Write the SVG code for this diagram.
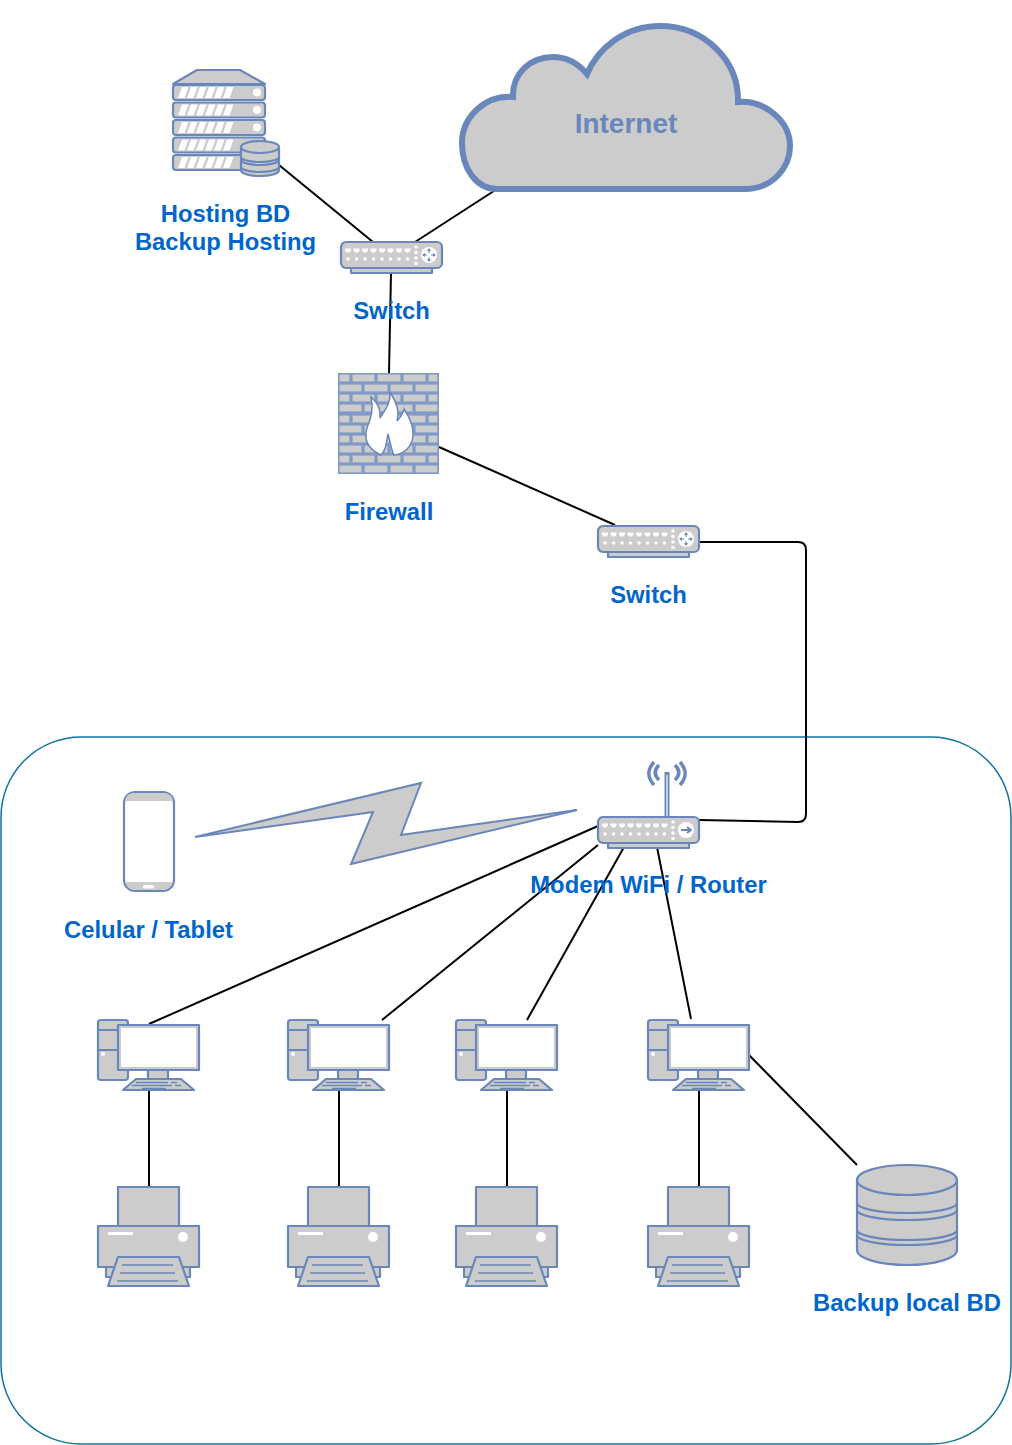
<svg xmlns="http://www.w3.org/2000/svg" xmlns:xlink="http://www.w3.org/1999/xlink" width="1012" height="1445" viewBox="0 0 1012 1445">
<style>
.s{fill:#ccc;stroke:#6a87bb;stroke-width:2.200;stroke-linejoin:round}
.b{fill:#7f9ac6;stroke:none}
.w{fill:#fff;stroke:none}
.l{fill:none;stroke:#6a87bb;stroke-width:2.200}
.br{fill:#ccc;stroke:#ccc;stroke-width:0.800}
.c{fill:none;stroke:#000;stroke-width:2}
.a{fill:none;stroke:#6a87bb;stroke-width:1}
text{font-family:"Liberation Sans",Arial,sans-serif;font-weight:bold;font-size:23.800px;fill:#0066cc;text-anchor:middle}
</style>
<defs>
<g id="sw">
<path class="s" d="M10 26h81v5h-81z"/>
<rect class="s" x="0" y="0" width="101" height="26" rx="5"/>
<g class="w">
<path d="M4 6.500h6v2l-1.500 2h-3l-1.500-2zM12.500 6.500h6v2l-1.500 2h-3l-1.500-2zM21 6.500h6v2l-1.500 2h-3l-1.500-2zM29.500 6.500h6v2l-1.500 2h-3l-1.500-2zM38 6.500h6v2l-1.500 2h-3l-1.500-2zM46.500 6.500h6v2l-1.500 2h-3l-1.500-2zM55 6.500h6v2l-1.500 2h-3l-1.500-2zM63.500 6.500h6v2l-1.500 2h-3l-1.500-2z"/>
<circle cx="7" cy="17" r="1.800"/><circle cx="15.500" cy="17" r="1.800"/><circle cx="24" cy="17" r="1.800"/><circle cx="32.500" cy="17" r="1.800"/><circle cx="41" cy="17" r="1.800"/><circle cx="49.500" cy="17" r="1.800"/><circle cx="58" cy="17" r="1.800"/><circle cx="66.500" cy="17" r="1.800"/>
<circle cx="75" cy="5" r="1.800"/><circle cx="75" cy="10.500" r="1.800"/><circle cx="75" cy="16" r="1.800"/><circle cx="75" cy="21.500" r="1.800"/>
<circle cx="88" cy="13" r="8"/>
</g>
</g>
<g id="sw-arrows">
<path class="a" d="M-6 0h4M6 0h-4M0 -6v4M0 6v-4"/>
<path d="M-7 0l3-2v4zM7 0l-3-2v4zM0 -7l-2 3h4zM0 7l-2-3h4z" fill="#6a87bb"/>
</g>
<g id="pc">
<rect class="s" x="0" y="0" width="30" height="60" rx="3"/>
<path class="l" d="M0 10h30M0 30h30"/>
<circle class="w" cx="5" cy="34" r="2"/>
<rect class="s" x="50" y="50" width="20" height="10"/>
<rect class="s" x="20" y="5" width="81" height="45"/>
<rect class="w" x="23" y="8" width="75" height="39"/>
<path class="s" d="M25 70l13-11h45l13 11z"/>
<path d="M38 62.500h32M73 62.500h6M34 65.500h40M77 65.500h6M44 68.500h24" fill="none" stroke="#6a87bb" stroke-width="1.600"/>
</g>
<g id="pr">
<rect class="s" x="20" y="0" width="61" height="40"/>
<rect class="s" x="8" y="60" width="84" height="30"/>
<rect class="s" x="0" y="39" width="101" height="41"/>
<rect class="w" x="10" y="45" width="25" height="3"/>
<circle class="w" cx="85" cy="50" r="5"/>
<path class="s" d="M10 99l10-29h61l10 29z"/>
<path class="l" style="stroke-width:1.500" d="M24 78h51M22 86h55M19 94h61"/>
</g>
<path id="stripes" class="w" d="M0 11l4-11h6.500l-4 11zM9 11l4-11h6.500l-4 11zM18 11l4-11h6.500l-4 11zM27 11l4-11h6.500l-4 11zM36 11l4-11h6.500l-4 11zM45 11l4-11h6.500l-4 11z"/>
</defs>

<g id="area"><rect x="1" y="737" width="1010" height="707" rx="80" ry="80" fill="#fff" stroke="#10739e" stroke-width="1.500"/></g>

<g id="connectors">
<path class="c" d="M279 165L373 242"/>
<path class="c" d="M497 189L415 242"/>
<path class="c" d="M391 273L389 373"/>
<path class="c" d="M439 447L615 525"/>
<path class="c" d="M699 542H798Q806 542 806 550V814Q806 822 798 822L699 820"/>
<path class="c" d="M598 826L149 1024"/>
<path class="c" d="M598 845L382 1020"/>
<path class="c" d="M624 847L527 1020"/>
<path class="c" d="M657 847L691 1019"/>
<path class="c" d="M149 1090V1187"/>
<path class="c" d="M339 1090V1187"/>
<path class="c" d="M507 1090V1187"/>
<path class="c" d="M699 1090V1187"/>
<path class="c" d="M749 1055L857 1165"/>
</g>

<g id="cloud">
<path d="M497 189H745C772 189 790 168 790 146C790 122 766 100 738 102C739 60 704 26 660 26C625 26 598 48 587 74C577 62 565 57 553 57C530 57 512 74 513 97C485 95 462 117 462 143C462 168 476 189 497 189Z" fill="#ccc" stroke="#6a87bb" stroke-width="6"/>
<text x="626" y="133" style="font-size:28px;fill:#6a87bb">Internet</text>
</g>

<g id="hosting">
<path class="s" d="M173 84L197 70H240L265 84Z"/>
<rect class="s" x="173" y="85" width="92" height="15" rx="3"/>
<rect class="s" x="173" y="102.500" width="92" height="15" rx="3"/>
<rect class="s" x="173" y="120" width="92" height="15" rx="3"/>
<rect class="s" x="173" y="137.500" width="92" height="15" rx="3"/>
<rect class="s" x="173" y="155" width="92" height="15" rx="3"/>
<use xlink:href="#stripes" href="#stripes" x="178" y="87"/>
<use xlink:href="#stripes" href="#stripes" x="178" y="104.500"/>
<use xlink:href="#stripes" href="#stripes" x="178" y="122"/>
<use xlink:href="#stripes" href="#stripes" x="178" y="139.500"/>
<use xlink:href="#stripes" href="#stripes" x="178" y="157"/>
<circle class="w" cx="257" cy="92.500" r="4"/><circle class="w" cx="257" cy="110" r="4"/><circle class="w" cx="257" cy="127.500" r="4"/>
<path class="s" d="M241 147V170C241 174 250 176 260 176S279 174 279 170V147Z"/>
<path class="l" d="M241 157A19 5 0 0 0 279 157M241 160A19 5 0 0 0 279 160M241 167A19 5 0 0 0 279 167"/>
<ellipse class="s" cx="260" cy="147" rx="19" ry="6"/>
<text x="225.500" y="222">Hosting BD</text>
<text x="225.500" y="250">Backup Hosting</text>
</g>

<g id="switch1">
<use xlink:href="#sw" href="#sw" x="341" y="242"/>
<use xlink:href="#sw-arrows" href="#sw-arrows" x="429" y="255"/>
<text x="391.500" y="319">Switch</text>
</g>

<g id="firewall">
<rect class="b" x="338" y="373" width="101" height="101"/>
<g class="br">
<rect x="340" y="375" width="9" height="6"/><rect x="353" y="375" width="21" height="6"/><rect x="378" y="375" width="22" height="6"/><rect x="404" y="375" width="21" height="6"/><rect x="429" y="375" width="8" height="6"/>
<rect x="340" y="385" width="21" height="6"/><rect x="365" y="385" width="22" height="6"/><rect x="391" y="385" width="21" height="6"/><rect x="416" y="385" width="21" height="6"/>
<rect x="340" y="395" width="9" height="6"/><rect x="353" y="395" width="21" height="6"/><rect x="378" y="395" width="22" height="6"/><rect x="404" y="395" width="21" height="6"/><rect x="429" y="395" width="8" height="6"/>
<rect x="340" y="405" width="21" height="6"/><rect x="365" y="405" width="22" height="6"/><rect x="391" y="405" width="21" height="6"/><rect x="416" y="405" width="21" height="6"/>
<rect x="340" y="416" width="9" height="6"/><rect x="353" y="416" width="21" height="6"/><rect x="378" y="416" width="22" height="6"/><rect x="404" y="416" width="21" height="6"/><rect x="429" y="416" width="8" height="6"/>
<rect x="340" y="426" width="21" height="6"/><rect x="365" y="426" width="22" height="6"/><rect x="391" y="426" width="21" height="6"/><rect x="416" y="426" width="21" height="6"/>
<rect x="340" y="436" width="9" height="6"/><rect x="353" y="436" width="21" height="6"/><rect x="378" y="436" width="22" height="6"/><rect x="404" y="436" width="21" height="6"/><rect x="429" y="436" width="8" height="6"/>
<rect x="340" y="446" width="21" height="6"/><rect x="365" y="446" width="22" height="6"/><rect x="391" y="446" width="21" height="6"/><rect x="416" y="446" width="21" height="6"/>
<rect x="340" y="456" width="9" height="6"/><rect x="353" y="456" width="21" height="6"/><rect x="378" y="456" width="22" height="6"/><rect x="404" y="456" width="21" height="6"/><rect x="429" y="456" width="8" height="6"/>
<rect x="340" y="466" width="21" height="6"/><rect x="365" y="466" width="22" height="6"/><rect x="391" y="466" width="21" height="6"/><rect x="416" y="466" width="21" height="6"/>
</g>
<path d="M381 455C370 450 365 442 366 433C367 423 375 416 371 397C378 403 381 410 380 418C385 410 391 403 390 392C396 402 400 411 397 421C400 418 403 415 404 409C410 418 414 427 413 436C412 447 404 454 394 455C391 450 391 444 388 434C386 444 386 450 381 455Z" fill="#fff" stroke="#6a87bb" stroke-width="1.500"/>
<text x="389" y="520">Firewall</text>
</g>

<g id="switch2">
<use xlink:href="#sw" href="#sw" x="598" y="526"/>
<use xlink:href="#sw-arrows" href="#sw-arrows" x="686" y="539"/>
<text x="648.500" y="603">Switch</text>
</g>

<g id="router">
<path d="M667 817V772" fill="none" stroke="#6a87bb" stroke-width="5"/>
<path d="M667 817V775" fill="none" stroke="#dde6f2" stroke-width="1.500"/>
<path d="M654 762C647 770 647 777 654 785M659 765C654 770 654 775 659 780M680 762C687 770 687 777 680 785M675 765C680 770 680 775 675 780" fill="none" stroke="#6a87bb" stroke-width="3.500"/>
<use xlink:href="#sw" href="#sw" x="598" y="817"/>
<path d="M681 830h10M687 827l4 3l-4 3" fill="none" stroke="#6a87bb" stroke-width="1.800"/>
<text x="648.500" y="893">Modem WiFi / Router</text>
</g>

<g id="wireless"><path d="M195 837L421 783L401 835L577 810L351 864L373 812Z" fill="#ccc" stroke="#6a87bb" stroke-width="2"/></g>

<g id="phone">
<rect x="124" y="792" width="50" height="99" rx="11" fill="#fff" stroke="#6a87bb" stroke-width="2.200"/>
<path d="M125 801H173V802C173 796 169 793 163 793H135C129 793 125 796 125 802ZM125 882H173V880C173 885 169 890 163 890H135C129 890 125 885 125 880Z" fill="#ccc"/>
<rect class="w" x="143" y="885" width="11" height="3.500" rx="1.500"/>
<text x="148.500" y="938">Celular / Tablet</text>
</g>

<g id="pc1"><use xlink:href="#pc" href="#pc" x="98" y="1020"/></g>
<g id="pc2"><use xlink:href="#pc" href="#pc" x="288" y="1020"/></g>
<g id="pc3"><use xlink:href="#pc" href="#pc" x="456" y="1020"/></g>
<g id="pc4"><use xlink:href="#pc" href="#pc" x="648" y="1020"/></g>
<g id="printer1"><use xlink:href="#pr" href="#pr" x="98" y="1187"/></g>
<g id="printer2"><use xlink:href="#pr" href="#pr" x="288" y="1187"/></g>
<g id="printer3"><use xlink:href="#pr" href="#pr" x="456" y="1187"/></g>
<g id="printer4"><use xlink:href="#pr" href="#pr" x="648" y="1187"/></g>

<g id="backup">
<path class="s" d="M857 1180V1250A50 15 0 0 0 957 1250V1180Z"/>
<path class="l" d="M857 1203A50 10 0 0 0 957 1203M857 1210A50 10 0 0 0 957 1210M857 1230A50 10 0 0 0 957 1230M857 1235A50 10 0 0 0 957 1235"/>
<ellipse class="s" cx="907" cy="1180" rx="50" ry="15"/>
<text x="907" y="1311">Backup local BD</text>
</g>
</svg>
